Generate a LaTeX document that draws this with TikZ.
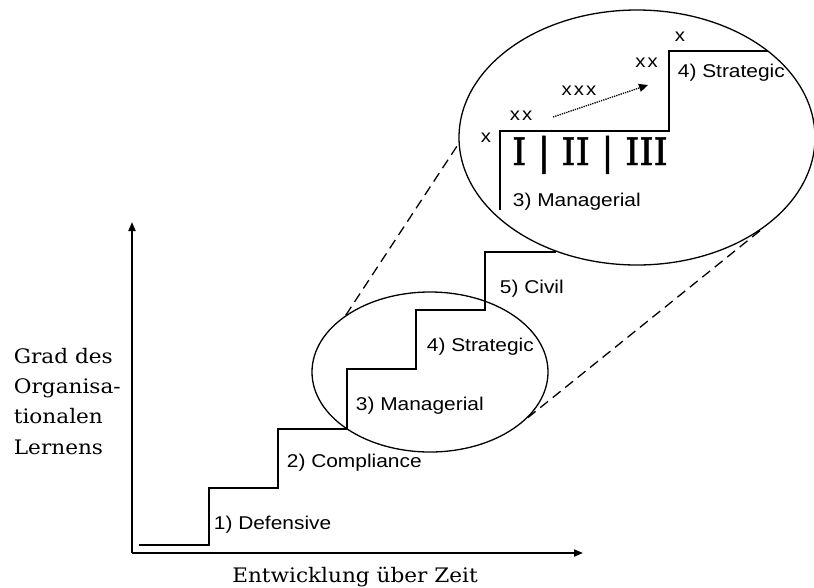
\documentclass[tikz,border=0pt]{standalone}
\usepackage{fontspec}
\setsansfont{Liberation Sans}[FakeStretch=1.13]
\newfontfamily\axisfont{DejaVu Serif}[FakeStretch=1.08]
\newfontfamily\phasefont{DejaVu Serif}[FakeStretch=0.95, FakeBold=1.2]
\usetikzlibrary{arrows.meta,shapes.geometric}
\tikzset{
	stage/.style={anchor=base west, inner sep=0pt, font=\sffamily\fontsize{18.5}{22}\selectfont},
	cross/.style={inner sep=0pt, font=\sffamily\fontsize{18}{20}\selectfont\addfontfeature{LetterSpace=12}},
	lens/.style={ellipse, draw, line width=1.3pt, inner sep=0pt},
	zoomline/.style={line width=1.3pt, dash pattern=on 10pt off 6pt},
}
\begin{document}
\begin{tikzpicture}[x=1pt, y=-1pt, line width=1.8pt]
	\useasboundingbox (0,0) rectangle (814,587);
	%axes
	\coordinate (origin) at (132,553);
	\coordinate (ytop) at (132,222);
	\coordinate (xend) at (583,553);
	\draw[-{Triangle[length=9pt,width=7pt]}] (origin) -- (ytop);
	\draw[-{Triangle[length=9pt,width=7pt]}] (origin) -- (xend);
	\node[anchor=north west, align=left, inner sep=0pt, font=\axisfont\fontsize{20}{30.3}\selectfont] (ylabel) at (13,347) {Grad des\\Organisa-\\tionalen\\Lernens};
	\node[anchor=base, inner sep=0pt, font=\axisfont\fontsize{20}{24}\selectfont] (xlabel) at (355,582) {Entwicklung über Zeit};
	
	%stairs
	\draw (139,545) -- (209,545) -- (209,488) -- (278,488) -- (278,429) -- (347,429) -- (347,369) -- (416,369) -- (416,310) -- (485,310) -- (485,252) -- (556,252);
	\node[stage] (s1) at (213,529) {1) Defensive};
	\node[stage] (s2) at (286,467) {2) Compliance};
	\node[stage] (s3) at (355,410) {3) Managerial};
	\node[stage] (s4) at (426,351) {4) Strategic};
	\node[stage] (s5) at (499,293) {5) Civil};
	
	%zoom
	\node[lens, minimum width=236pt, minimum height=160pt] (small) at (430,372) {};
	\node[lens, minimum width=356pt, minimum height=255pt] (big) at (637,137.5) {};
	\draw[zoomline] (small.146) -- (big.182);
	\draw[zoomline] (small.335) -- (big.324);
	
	\draw (500,210) -- (500,131) -- (669,131) -- (669,51) -- (768,51);
	\node[stage] (b3) at (512,206) {3) Managerial};
	\node[stage] (b4) at (677,77) {4) Strategic};
	\node[anchor=base, inner sep=0pt, font=\phasefont\fontsize{38}{40}\selectfont] (phases) at (590,165) {I | II | III};
	
	\node[cross] (c1) at (486,137.5) {x};
	\node[cross] (c2) at (521,116) {xx};
	\node[cross] (c3) at (579,91) {xxx};
	\node[cross] (c4) at (646.5,63) {xx};
	\node[cross] (c5) at (680,37) {x};
	\coordinate (trendstart) at (553,117);
	\coordinate (trendend) at (648,85);
	\draw[densely dotted, line width=1.3pt, -{Triangle[length=9pt,width=8pt]}] (trendstart) -- (trendend);
\end{tikzpicture}
\end{document}
